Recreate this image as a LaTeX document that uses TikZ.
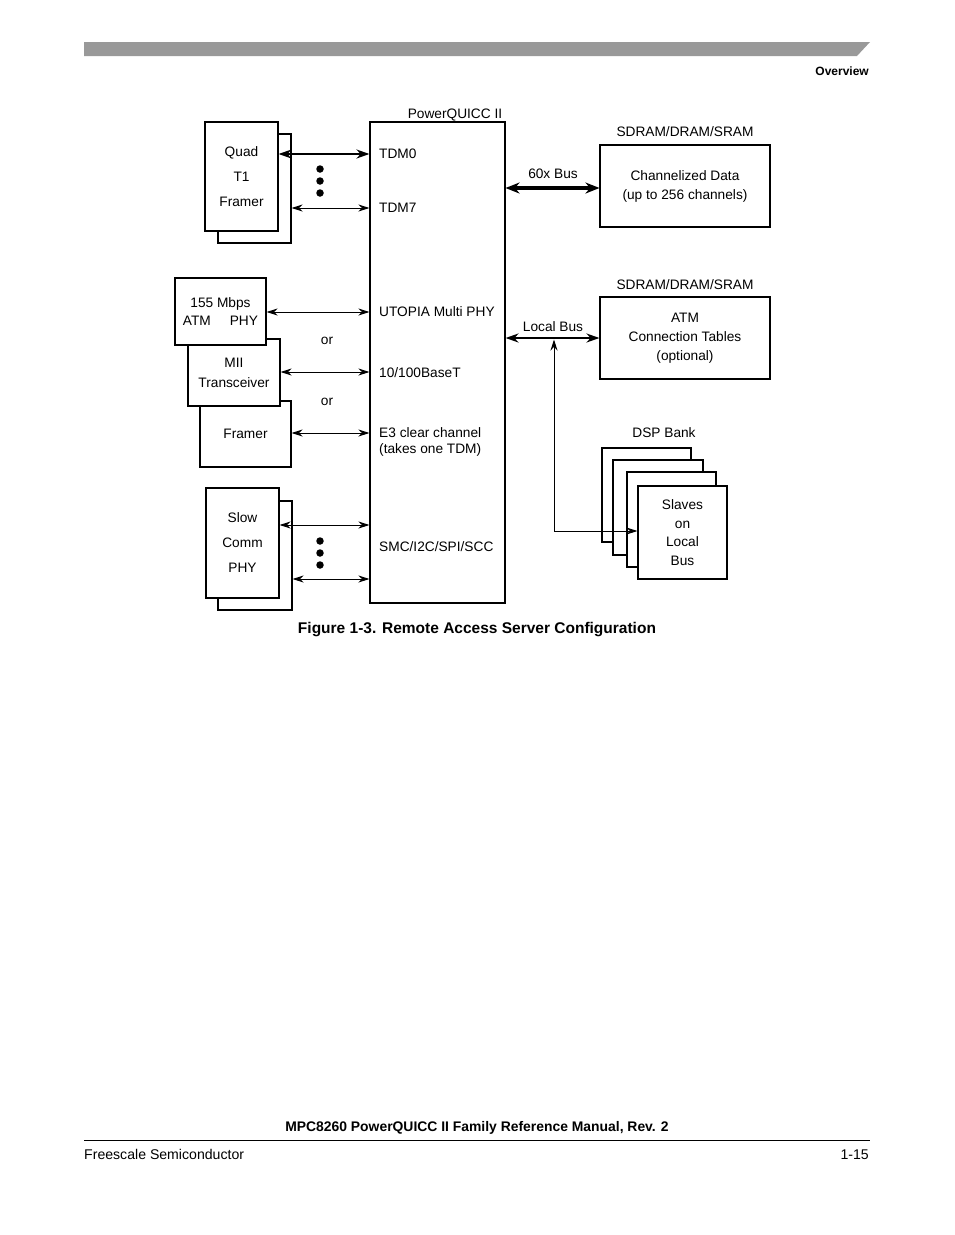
\documentclass[tikz,border=0pt]{standalone}
\usepackage{fontspec}
\setmainfont{Liberation Sans}
\usetikzlibrary{arrows.meta,calc}
\begin{document}
\begin{tikzpicture}[x=1pt,y=-1pt,
  box/.style={draw,line width=1.1pt,fill=white,inner sep=0pt,align=center},
  txt/.style={font=\fontsize{13.7}{16}\selectfont,inner sep=0pt},
  arr/.style={line width=1pt,{Stealth[length=11pt,width=7pt]}-{Stealth[length=11pt,width=7pt]}},
  tarr/.style={line width=2.6pt,{Stealth[length=13pt,width=9pt]}-{Stealth[length=13pt,width=9pt]}},
  barr/.style={line width=3.4pt,{Stealth[length=14pt,width=11pt]}-{Stealth[length=14pt,width=11pt]}},
  dotn/.style={circle,fill,inner sep=0pt,minimum size=7.5pt}]
\useasboundingbox (0,0) rectangle (954,1235);
\fill[white] (0,0) rectangle (954,1235);
% banner
\fill[black!40] (84,42) -- (870,42) -- (857,56) -- (84,56) -- cycle;
\node[anchor=base east,inner sep=0pt,font=\fontsize{12}{14}\selectfont\bfseries] (ov) at (869,75) {Overview};

% PowerQUICC
\node[box,minimum width=135pt,minimum height=481pt] (pq) at (437.5,362.5) {};
\node[txt,anchor=base] (pql) at (455,118) {PowerQUICC II};

% Quad T1 framer
\node[box,minimum width=73pt,minimum height=109pt] (quadb) at (254.5,188.5) {};
\node[box,minimum width=73pt,minimum height=109pt,font=\fontsize{13.7}{25}\selectfont] (quad) at (241.5,176.5) {Quad\\T1\\Framer};

% 155 / MII / Framer
\node[box,minimum width=91pt,minimum height=66pt,font=\fontsize{13.7}{16}\selectfont] (fr) at (245.5,434) {Framer};
\node[box,minimum width=92pt,minimum height=67pt,font=\fontsize{13.7}{20}\selectfont] (mii) at (234,372.5) {MII\\Transceiver};
\node[box,minimum width=91pt,minimum height=67pt,font=\fontsize{13.7}{18}\selectfont] (atmphy) at (220.5,311.5) {155 Mbps\\ATM\hspace{19pt}PHY};

% Slow comm
\node[box,minimum width=74pt,minimum height=109pt] (slowb) at (255,555.5) {};
\node[box,minimum width=73pt,minimum height=110pt,font=\fontsize{13.7}{25}\selectfont] (slow) at (242.5,543) {Slow\\Comm\\PHY};

% rows
\coordinate (r0) at (0,154);
\coordinate (r7) at (0,208);
\coordinate (ru) at (0,312);
\coordinate (rm) at (0,372);
\coordinate (rf) at (0,433);
\coordinate (rs1) at (0,525);
\coordinate (rs2) at (0,579);

\draw[tarr] (quad.east |- r0) -- (pq.west |- r0);
\draw[arr] (quadb.east |- r7) -- (pq.west |- r7);
\draw[arr] (atmphy.east |- ru) -- (pq.west |- ru);
\draw[arr] (mii.east |- rm) -- (pq.west |- rm);
\draw[arr] (fr.east |- rf) -- (pq.west |- rf);
\draw[arr] (slow.east |- rs1) -- (pq.west |- rs1);
\draw[arr] (slowb.east |- rs2) -- (pq.west |- rs2);

\node[dotn] (d1) at (320,169) {};
\node[dotn] (d2) at (320,181) {};
\node[dotn] (d3) at (320,193) {};
\node[dotn] (d4) at (320,541) {};
\node[dotn] (d5) at (320,553) {};
\node[dotn] (d6) at (320,565) {};

\node[txt,anchor=base] (or1) at (327,344) {or};
\node[txt,anchor=base] (or2) at (327,405) {or};

% PQ port labels
\node[txt,anchor=base west] (ltdm0) at (379,158) {TDM0};
\node[txt,anchor=base west] (ltdm7) at (379,212) {TDM7};
\node[txt,anchor=base west] (lutop) at (379,316) {UTOPIA Multi PHY};
\node[txt,anchor=base west] (l10) at (379,377) {10/100BaseT};
\node[txt,anchor=base west,align=left] (le3) at (379,453) {E3 clear channel\\(takes one TDM)};
\node[txt,anchor=base west] (lsmc) at (379,551) {SMC/I2C/SPI/SCC};

% right side
\node[box,minimum width=170pt,minimum height=82pt,font=\fontsize{13.7}{19}\selectfont] (chan) at (685,186) {Channelized Data\\(up to 256 channels)};
\node[txt,anchor=base] (sd1) at (685,136) {SDRAM/DRAM/SRAM};
\node[box,minimum width=170pt,minimum height=82pt,font=\fontsize{13.7}{19}\selectfont] (atmt) at (685,338) {ATM\\Connection Tables\\(optional)};
\node[txt,anchor=base] (sd2) at (685,289) {SDRAM/DRAM/SRAM};

\coordinate (r60) at (0,188);
\coordinate (rlb) at (0,338);
\draw[barr] (pq.east |- r60) -- (chan.west |- r60);
\draw[tarr] (pq.east |- rlb) -- (atmt.west |- rlb);
\node[txt,anchor=base] (l60) at (553,178) {60x Bus};
\node[txt,anchor=base] (llb) at (553,331) {Local Bus};

% DSP bank
\node[txt,anchor=base] (ldsp) at (664,437) {DSP Bank};
\node[box,minimum width=89pt,minimum height=94pt] (dsp1) at (646.5,495) {};
\node[box,minimum width=90pt,minimum height=95pt] (dsp2) at (658,507.5) {};
\node[box,minimum width=89pt,minimum height=95pt] (dsp3) at (671.5,519.5) {};
\node[box,minimum width=89pt,minimum height=93pt,font=\fontsize{13.7}{18.7}\selectfont] (dsp4) at (682.5,532.5) {Slaves\\on\\Local\\Bus};

\coordinate (tap) at (554,339.5);
\coordinate (corner) at (554,531);
\draw[arr] (tap) -- (corner) -- (dsp4.west |- corner);

% caption
\node[anchor=base,inner sep=0pt,font=\fontsize{15.5}{18}\selectfont\bfseries] (cap) at (477,633) {Figure 1-3. Remote Access Server Configuration};

% footer
\node[anchor=base,inner sep=0pt,font=\fontsize{13.9}{16}\selectfont\bfseries] (ft) at (477,1131) {MPC8260 PowerQUICC II Family Reference Manual, Rev. 2};
\draw[line width=1pt] (84,1140) -- (870,1140);
\node[anchor=base west,inner sep=0pt,font=\fontsize{14.1}{16}\selectfont] (fs) at (84,1159) {Freescale Semiconductor};
\node[anchor=base east,inner sep=0pt,font=\fontsize{14.1}{16}\selectfont] (pg) at (869,1159) {1-15};
\end{tikzpicture}
\end{document}
